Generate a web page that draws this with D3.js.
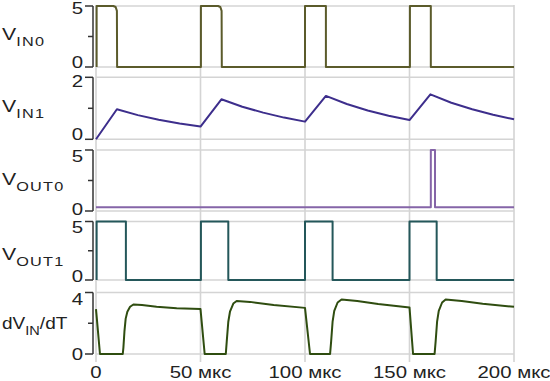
<!DOCTYPE html>
<html><head><meta charset="utf-8">
<script src="https://cdn.jsdelivr.net/npm/d3@7"></script>
<style>body{margin:0;background:#fff}svg{display:block}text{font-family:"Liberation Sans",Arial,sans-serif;fill:#222}</style>
</head><body><svg id="c" width="550" height="381"></svg>
<script>
const xTicks = [0, 50, 100, 150, 200];
const xTickLabels = ["0", "50 мкс", "100 мкс", "150 мкс", "200 мкс"];
const seriesNames = [["V","IN0",""],["V","IN1",""],["V","OUT0",""],["V","OUT1",""],["dV","IN","/dT"]];
const yMax = [5, 2, 5, 5, 4];
const yTickLabels = [["0","5"],["0","2"],["0","5"],["0","5"],["0","4"]];
const colors = ["#5b5b2b", "#3d2e8c", "#8565a8", "#24575a", "#2f4d10"];

const vin0 = [[0.3,0],[0.3,5],[8.3,5],[9.4,4.92],[10,4.6],[10.1,0],[50.2,0],[50.2,5],[58.4,5],[59.5,4.92],[60.1,4.6],[60.2,0],
  [100,0],[100,5],[110,5],[110,0],[150.2,0],[150.2,5],[160.2,5],[160.2,0],[200,0]];
const vin1 = [[0,0],[10,0.97],[20,0.78],[30,0.63],[40,0.51],[50,0.41],[60,1.29],[70,1.05],[80,0.86],[90,0.70],[100,0.57],
  [110,1.40],[120,1.14],[130,0.93],[140,0.76],[150,0.62],[160,1.45],[170,1.18],[180,0.97],[190,0.79],[200,0.645]];
const vout0 = [[0,0.3],[160.2,0.3],[160.2,5],[162.2,5],[162.2,0.3],[200,0.3]];
const vout1 = [[0.3,0],[0.3,5],[14.3,5],[14.3,0],[50.2,0],[50.2,5],[63.3,5],[63.3,0],[100,0],[100,5],[113.2,5],[113.2,0],
  [150,0],[150,5],[163,5],[163,0],[200,0]];
const dvdt = [[0,2.92],[1.9,0],[12.8,0],[13.1,0.4],[13.6,1.45],[14.2,2.3],[15,2.75],[16.3,3.07],[17.9,3.22],[22,3.18],[29,3.07],[38.6,2.98],[50,2.92],
  [52,0],[62.1,0],[62.55,0.8],[63.3,2.1],[64.1,2.75],[65.7,3.28],[67.3,3.45],[73.7,3.39],[85,3.18],[100,3.0],
  [102.4,0],[112,0],[112.5,0.8],[113.2,2.1],[114,2.8],[115.6,3.35],[117.5,3.55],[125,3.44],[135,3.25],[150,3.03],
  [151.7,0],[162,0],[162.5,0.8],[163.2,2.1],[164,2.8],[165.6,3.35],[167.3,3.55],[175,3.44],[185,3.27],[200,3.07]];
const seriesData = [vin0, vin1, vout0, vout1, dvdt];

const svg = d3.select("#c");
const x = d3.scaleLinear().domain([0, 200]).range([96, 514]);
const panels = [[6, 67], [77.3, 139.3], [150, 211], [221.5, 280], [292.5, 354]];
const topLabelOff = [8, 9.7, 11.7, 11.2, 12.5];
const zeroLabelOff = [1.3, 0.7, 4, 1.7, 6];
const nameBase = [39.5, 112, 185, 260, 329];
const nameScale = [1.25, 1.25, 1.25, 1.25, 1.12];
const SX = 1.2;
function txt(g, xx, yy, anchor, size, sx) {
  return g.append("text").attr("transform", `translate(${xx},${yy}) scale(${sx || SX},1)`).attr("text-anchor", anchor).style("font-size", size + "px");
}

const grid = svg.append("g");
grid.selectAll("line.v").data(xTicks).join("line")
  .attr("x1", d => x(d)).attr("x2", d => x(d)).attr("y1", 5).attr("y2", 362)
  .attr("stroke", "#d4d4d4").attr("stroke-width", 1.6);

panels.forEach((p, i) => {
  const y = d3.scaleLinear().domain([0, yMax[i]]).range([p[1], p[0]]);
  grid.selectAll("line.h" + i).data([0, yMax[i]]).join("line")
    .attr("x1", 96).attr("x2", 514).attr("y1", d => y(d)).attr("y2", d => y(d))
    .attr("stroke", "#d4d4d4").attr("stroke-width", 1.6);
  const ax = svg.append("g");
  ax.append("line").attr("x1", 93).attr("x2", 93).attr("y1", y(yMax[i])).attr("y2", y(0)).attr("stroke", "#333").attr("stroke-width", 1.5);
  [0, yMax[i] / 2, yMax[i]].forEach((t, k) => {
    ax.append("line").attr("x1", k === 1 ? 88 : 85).attr("x2", 93).attr("y1", y(t)).attr("y2", y(t)).attr("stroke", "#333").attr("stroke-width", 1.5);
  });
  txt(ax, 83, y(0) + zeroLabelOff[i], "end", 17).text(yTickLabels[i][0]);
  txt(ax, 83, y(yMax[i]) + topLabelOff[i], "end", 17).text(yTickLabels[i][1]);
  const line = d3.line().x(d => x(d[0])).y(d => y(d[1]));
  svg.append("path").datum(seriesData[i]).attr("d", line).attr("fill", "none")
    .attr("stroke", colors[i]).attr("stroke-width", 2).attr("stroke-linejoin", "round");
  const nm = seriesNames[i];
  const lt = txt(svg, 2, nameBase[i], "start", 17, nameScale[i]);
  lt.append("tspan").text(nm[0]);
  lt.append("tspan").attr("dy", 6).style("font-size", "13px").style("letter-spacing", i < 4 ? "1px" : "0px").text(nm[1]);
  if (nm[2]) lt.append("tspan").attr("dy", -6).text(nm[2]);
});

xTicks.forEach((t, i) => {
  txt(svg, x(t), 378, "middle", 17).text(xTickLabels[i]);
});
</script></body></html>
